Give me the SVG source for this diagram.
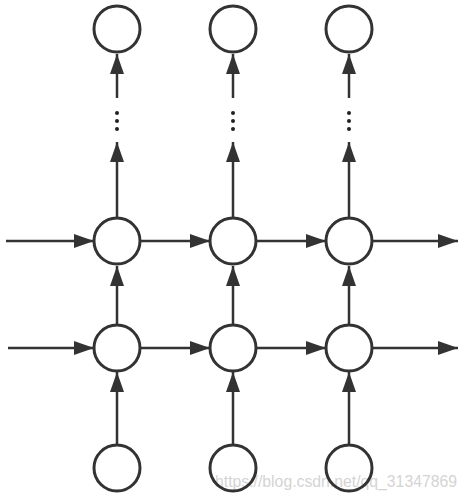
<svg xmlns="http://www.w3.org/2000/svg" width="467" height="499" viewBox="0 0 467 499">
<defs>
<marker id="ah" markerWidth="20" markerHeight="14" refX="20" refY="7" orient="auto" markerUnits="userSpaceOnUse">
<path d="M0,0 L20,7 L0,14 Z" fill="#333"/>
</marker>
<style>
.n{fill:none;stroke:#333;stroke-width:3}
.e{stroke:#333;stroke-width:2.5;fill:none}
.a{marker-end:url(#ah)}
.d{fill:#222}
.wm{font-family:"Liberation Sans",Arial,sans-serif;font-size:16px;fill:#d4d4d4}
</style>
</defs>
<rect width="467" height="499" fill="#fff"/>
<text class="wm" x="215" y="487" textLength="242" lengthAdjust="spacingAndGlyphs">https://blog.csdn.net/qq_31347869</text>
<g id="connectors">
<line class="e a" x1="6" y1="241" x2="94" y2="241"/>
<line class="e a" x1="140" y1="241" x2="210" y2="241"/>
<line class="e a" x1="256" y1="241" x2="326" y2="241"/>
<line class="e a" x1="372" y1="241" x2="458" y2="241"/>
<line class="e a" x1="8" y1="348" x2="94" y2="348"/>
<line class="e a" x1="140" y1="348" x2="210" y2="348"/>
<line class="e a" x1="256" y1="348" x2="326" y2="348"/>
<line class="e a" x1="372" y1="348" x2="458" y2="348"/>
<line class="e a" x1="117" y1="445" x2="117" y2="372"/>
<line class="e a" x1="233" y1="445" x2="233" y2="372"/>
<line class="e a" x1="349" y1="445" x2="349" y2="372"/>
<line class="e a" x1="117" y1="325" x2="117" y2="266"/>
<line class="e a" x1="233" y1="325" x2="233" y2="266"/>
<line class="e a" x1="349" y1="325" x2="349" y2="266"/>
<line class="e a" x1="117" y1="218" x2="117" y2="142"/>
<line class="e a" x1="233" y1="218" x2="233" y2="142"/>
<line class="e a" x1="349" y1="218" x2="349" y2="142"/>
<line class="e a" x1="117" y1="98" x2="117" y2="54"/>
<line class="e a" x1="233" y1="98" x2="233" y2="54"/>
<line class="e a" x1="349" y1="98" x2="349" y2="54"/>
<circle class="d" cx="117" cy="113" r="2"/><circle class="d" cx="117" cy="121" r="2"/><circle class="d" cx="117" cy="129" r="2"/>
<circle class="d" cx="233" cy="113" r="2"/><circle class="d" cx="233" cy="121" r="2"/><circle class="d" cx="233" cy="129" r="2"/>
<circle class="d" cx="349" cy="113" r="2"/><circle class="d" cx="349" cy="121" r="2"/><circle class="d" cx="349" cy="129" r="2"/>
</g>
<g id="top1"><circle class="n" cx="117" cy="29" r="23"/></g>
<g id="top2"><circle class="n" cx="233" cy="29" r="23"/></g>
<g id="top3"><circle class="n" cx="349" cy="29" r="23"/></g>
<g id="h2_1"><circle class="n" cx="117" cy="241" r="23"/></g>
<g id="h2_2"><circle class="n" cx="233" cy="241" r="23"/></g>
<g id="h2_3"><circle class="n" cx="349" cy="241" r="23"/></g>
<g id="h1_1"><circle class="n" cx="117" cy="348" r="23"/></g>
<g id="h1_2"><circle class="n" cx="233" cy="348" r="23"/></g>
<g id="h1_3"><circle class="n" cx="349" cy="348" r="23"/></g>
<g id="x1"><circle class="n" cx="117" cy="468" r="23"/></g>
<g id="x2"><circle class="n" cx="233" cy="468" r="23"/></g>
<g id="x3"><circle class="n" cx="349" cy="468" r="23"/></g>
</svg>
